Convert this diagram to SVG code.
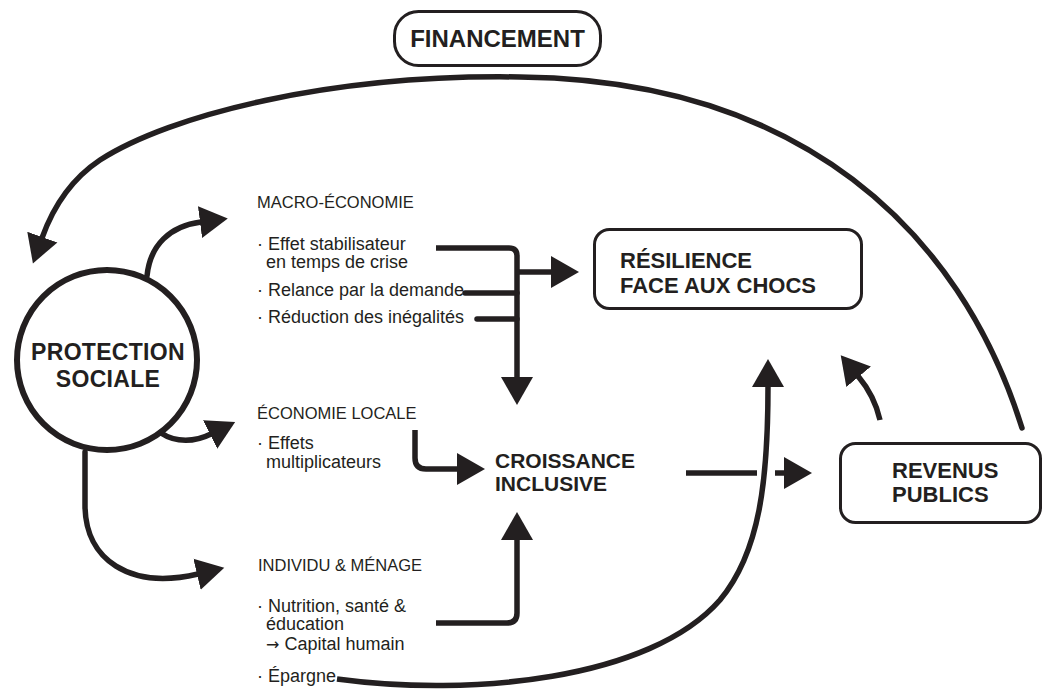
<svg xmlns="http://www.w3.org/2000/svg" width="1048" height="694" viewBox="0 0 1048 694">
  <style>
    .bg { fill: #ffffff; }
    .box { fill: #ffffff; stroke: #231f20; stroke-width: 3; }
    .ring { fill: #ffffff; stroke: #231f20; stroke-width: 6; }
    .title { font-family: "Liberation Sans", Arial, sans-serif; font-weight: bold; fill: #231f20; }
    .head { font-family: "Liberation Sans", Arial, sans-serif; font-size: 16.5px; fill: #231f20; }
    .item { font-family: "Liberation Sans", "DejaVu Sans", Arial, sans-serif; font-size: 18px; fill: #231f20; }
    .sym { font-family: "DejaVu Sans", sans-serif; font-size: 16px; }
    .link { fill: none; stroke: #231f20; stroke-width: 5.5; stroke-linecap: round; stroke-linejoin: round; }
    .link.butt { stroke-linecap: butt; }
  </style>
  <defs>
    <marker id="arrow" markerUnits="userSpaceOnUse" markerWidth="30" markerHeight="34" viewBox="0 -17 30 34" refX="1" refY="0" orient="auto">
      <path d="M0,-16 L28,0 L0,16 Z" fill="#231f20"/>
    </marker>
  </defs>

  <rect class="bg" x="0" y="0" width="1048" height="694"/>

  <!-- connectors -->
  <g id="connectors">
    <!-- funding loop: public revenue back to social protection -->
    <path class="link" d="M1022,428 C960,230 800,80 520,77 C330,74 170,115 100,160 C70,180 52,210 42,238" marker-end="url(#arrow)"/>
    <!-- social protection to the three levels -->
    <path class="link" d="M147,276 C150,245 170,226 201,222" marker-end="url(#arrow)"/>
    <path class="link" d="M161,433 C176,443 195,442 211,434" marker-end="url(#arrow)"/>
    <path class="link" d="M85,452 L85,505 C85,560 130,590 198,574" marker-end="url(#arrow)"/>
    <!-- macro-economy bracket -->
    <path class="link butt" d="M436,248 H509 Q517,248 517,256 V378" marker-end="url(#arrow)"/>
    <path class="link" d="M465,293 H517"/>
    <path class="link" d="M477,319 H517"/>
    <path class="link butt" d="M517,272 H552" marker-end="url(#arrow)"/>
    <!-- local economy bracket -->
    <path class="link butt" d="M415,430 V458 Q415,469 426,469 H458" marker-end="url(#arrow)"/>
    <!-- household bracket -->
    <path class="link butt" d="M436,623 H507 Q517,623 517,613 V539" marker-end="url(#arrow)"/>
    <!-- savings towards resilience -->
    <path class="link butt" d="M337,679 C470,697 650,680 720,600 C760,552 768,480 768,386" marker-end="url(#arrow)"/>
    <!-- inclusive growth to public revenue (interrupted at the crossing) -->
    <path class="link butt" d="M686,473 H757"/>
    <path class="link butt" d="M775,473 H785" marker-end="url(#arrow)"/>
    <!-- public revenue to resilience -->
    <path class="link butt" d="M880,420 C876,402 868,388 858,376" marker-end="url(#arrow)"/>
  </g>

  <g id="financement">
    <rect class="box" x="394.5" y="11.5" width="206" height="54" rx="24"/>
    <text class="title" x="497.5" y="47" font-size="24" text-anchor="middle">FINANCEMENT</text>
  </g>

  <g id="protection-sociale">
    <circle class="ring" cx="107" cy="360" r="90"/>
    <text class="title" x="108" y="360" font-size="23" letter-spacing="0.3" text-anchor="middle">PROTECTION</text>
    <text class="title" x="108" y="387" font-size="23" letter-spacing="0.3" text-anchor="middle">SOCIALE</text>
  </g>

  <g id="macro-economie">
    <text class="head" x="257" y="208">MACRO-ÉCONOMIE</text>
    <text class="item" x="257" y="250">· Effet stabilisateur</text>
    <text class="item" x="266" y="268">en temps de crise</text>
    <text class="item" x="257" y="296">· Relance par la demande</text>
    <text class="item" x="257" y="323">· Réduction des inégalités</text>
  </g>

  <g id="economie-locale">
    <text class="head" x="257" y="419">ÉCONOMIE LOCALE</text>
    <text class="item" x="257" y="449">· Effets</text>
    <text class="item" x="266" y="468">multiplicateurs</text>
  </g>

  <g id="individu-menage">
    <text class="head" x="258" y="571">INDIVIDU &amp; MÉNAGE</text>
    <text class="item" x="257" y="612">· Nutrition, santé &amp;</text>
    <text class="item" x="266" y="630">éducation</text>
    <text class="item" x="266" y="650"><tspan class="sym">→</tspan> Capital humain</text>
    <text class="item" x="257" y="682">· Épargne</text>
  </g>

  <g id="resilience">
    <rect class="box" x="594.5" y="229.5" width="267" height="79" rx="15"/>
    <text class="title" x="620" y="268" font-size="22">RÉSILIENCE</text>
    <text class="title" x="620" y="293" font-size="22">FACE AUX CHOCS</text>
  </g>

  <g id="croissance-inclusive">
    <text class="title" x="495" y="468" font-size="21">CROISSANCE</text>
    <text class="title" x="495" y="491" font-size="21">INCLUSIVE</text>
  </g>

  <g id="revenus-publics">
    <rect class="box" x="840.5" y="443.5" width="200" height="79" rx="15"/>
    <text class="title" x="892" y="478" font-size="22">REVENUS</text>
    <text class="title" x="892" y="502" font-size="22">PUBLICS</text>
  </g>
</svg>
